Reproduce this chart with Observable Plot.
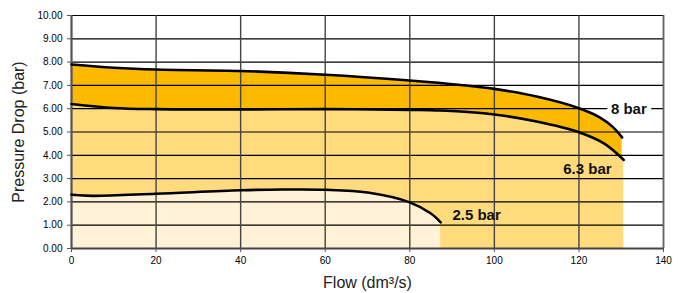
<!DOCTYPE html>
<html>
<head>
<meta charset="utf-8">
<script src="https://cdn.jsdelivr.net/npm/d3@7"></script>
<script src="https://cdn.jsdelivr.net/npm/@observablehq/plot@0.6"></script>
<style>
  html, body { margin: 0; padding: 0; background: #fff; }
  #chart { width: 683px; height: 293px; }
  svg { font-family: "Liberation Sans", Arial, sans-serif; }
</style>
</head>
<body>
<div id="chart"></div>
<script>
// Series: flow (dm³/s) vs pressure drop (bar)
const flow8 = [0, 10, 20, 40, 60, 80, 92, 100, 110, 120, 125, 128, 130.2];
const drop8 = [7.9, 7.76, 7.68, 7.62, 7.46, 7.21, 7.02, 6.85, 6.52, 6.02, 5.62, 5.22, 4.77];

const flow63 = [0, 10, 20, 40, 60, 80, 87.3, 100, 110, 120, 126, 130.6];
const drop63 = [6.2, 6.03, 5.98, 5.97, 5.98, 5.95, 5.92, 5.75, 5.45, 4.99, 4.5, 3.8];

const flow25 = [0, 5, 20, 40, 50, 60, 70, 80, 85, 87.3];
const drop25 = [2.31, 2.26, 2.35, 2.5, 2.53, 2.52, 2.4, 1.98, 1.5, 1.12];

const xTicks = [0, 20, 40, 60, 80, 100, 120, 140];
const yTicks = [0, 1, 2, 3, 4, 5, 6, 7, 8, 9, 10];

const seriesNames = ["8 bar", "6.3 bar", "2.5 bar"];
const labelFlow = [131.8, 122, 95.8];
const labelDrop = [6.0, 3.42, 1.44];

const toRows = (xs, ys) => xs.map((x, i) => ({x, y: ys[i]}));
const s8 = toRows(flow8, drop8);
const s63 = toRows(flow63, drop63);
const s25 = toRows(flow25, drop25);
const labels = seriesNames.map((t, i) => ({t, x: labelFlow[i], y: labelDrop[i]}));

const curve = "catmull-rom";

const chart = Plot.plot({
  width: 683,
  height: 293,
  marginLeft: 71,
  marginRight: 20,
  marginTop: 15,
  marginBottom: 45,
  style: {fontFamily: "'Liberation Sans', Arial, sans-serif", background: "#fff"},
  x: {domain: [0, 140], ticks: xTicks},
  y: {domain: [0, 10], ticks: yTicks},
  marks: [
    Plot.areaY(s8, {x: "x", y: "y", fill: "#FBB900", curve}),
    Plot.areaY(s63, {x: "x", y: "y", fill: "#FFDB7E", curve}),
    Plot.areaY(s25, {x: "x", y: "y", fill: "#FFF2D6", curve}),
    Plot.gridY(yTicks, {stroke: "#000", strokeOpacity: 1, strokeWidth: 1.2}),
    Plot.gridX(xTicks, {stroke: "#444", strokeOpacity: 1, strokeWidth: 1.4}),
    Plot.ruleX([0], {stroke: "#555", strokeWidth: 2}),
    Plot.ruleX([140], {stroke: "#666", strokeWidth: 1.5}),
    Plot.ruleY([0], {stroke: "#444", strokeWidth: 2}),
    Plot.line(s8, {x: "x", y: "y", stroke: "#000", strokeWidth: 2.6, curve}),
    Plot.line(s63, {x: "x", y: "y", stroke: "#000", strokeWidth: 2.6, curve}),
    Plot.line(s25, {x: "x", y: "y", stroke: "#000", strokeWidth: 2.6, curve}),
    Plot.axisY(yTicks, {
      tickFormat: d3.format(".2f"), tickSize: 4, tickPadding: 5,
      fontSize: 10, stroke: "#555", label: null
    }),
    Plot.axisX(xTicks, {
      tickSize: 4, tickPadding: 4, fontSize: 10, stroke: "#555", label: null
    }),
    Plot.text(labels, {
      x: "x", y: "y", text: "t", fontSize: 15, fontWeight: "bold",
      fill: "#111", textAnchor: "middle",
      stroke: (d) => d.t === "8 bar" ? "white" : "none",
      strokeWidth: 9
    }),
    Plot.text(["Pressure Drop (bar)"], {
      frameAnchor: "left", rotate: -90, dx: -53, fontSize: 16, fill: "#222",
      textAnchor: "middle", lineAnchor: "middle"
    }),
    Plot.text(["Flow (dm³/s)"], {
      frameAnchor: "bottom", dy: 34, fontSize: 16, fill: "#222",
      textAnchor: "middle", lineAnchor: "middle"
    })
  ]
});
document.getElementById("chart").appendChild(chart);
</script>
</body>
</html>
